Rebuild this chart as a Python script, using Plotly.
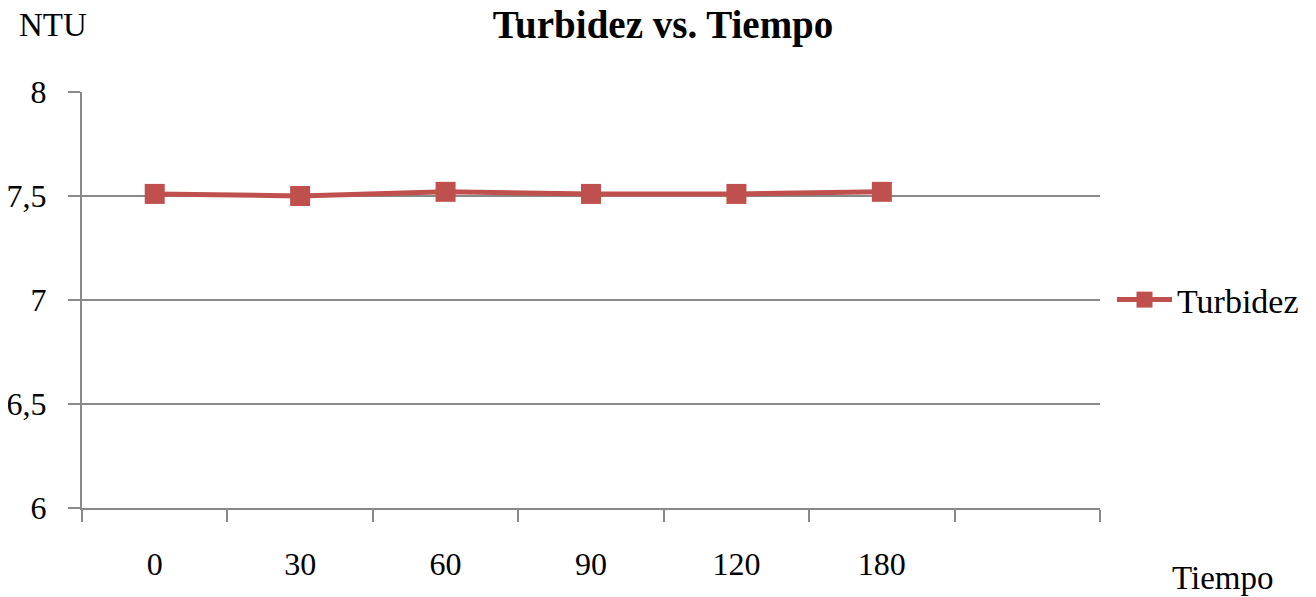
import plotly.graph_objects as go

tiempo = ["0", "30", "60", "90", "120", "180"]
turbidez = [7.51, 7.50, 7.52, 7.51, 7.51, 7.52]
y_ticks = [6, 6.5, 7, 7.5, 8]

RED = "#C0504D"
GRAY = "#898989"
FONT = "Liberation Serif"

# page has an 8px body margin, so the figure is sized to the visible area
W, H = 1300, 589
L, R, T, B = 74, 208, 84, 89
PW, PH = W - L - R, H - T - B

fig = go.Figure()
fig.add_trace(
    go.Scatter(
        x=tiempo,
        y=turbidez,
        mode="lines+markers",
        name="Turbidez",
        line=dict(color=RED, width=5),
        marker=dict(symbol="square", size=20, color=RED),
    )
)

fig.update_layout(
    width=W,
    height=H,
    margin=dict(l=L, r=R, t=T, b=B, autoexpand=False),
    paper_bgcolor="white",
    plot_bgcolor="white",
    separators=", ",
    font=dict(family=FONT, size=32, color="black"),
    title=dict(
        text="<b>Turbidez vs. Tiempo</b>",
        x=655 / W,
        xanchor="center",
        y=1 - 16 / H,
        yanchor="middle",
        font=dict(family=FONT, size=39, color="black"),
    ),
    showlegend=True,
    legend=dict(
        x=(1104 - L) / PW,
        xanchor="left",
        y=0.5,
        yanchor="middle",
        itemwidth=55,
        font=dict(family=FONT, size=34),
        bgcolor="rgba(0,0,0,0)",
    ),
)

fig.update_xaxes(
    type="category",
    categoryorder="array",
    categoryarray=tiempo + [" "],
    range=[-0.5, 6.5],
    tickson="boundaries",
    ticks="outside",
    ticklen=12,
    tickcolor=GRAY,
    tickwidth=2,
    showline=True,
    linecolor=GRAY,
    linewidth=2,
    showgrid=False,
    automargin=False,
    ticklabelstandoff=27,
    tickfont=dict(size=32),
)

fig.update_yaxes(
    range=[6, 8],
    tickvals=y_ticks,
    ticks="outside",
    ticklen=12,
    tickcolor=GRAY,
    tickwidth=2,
    showline=True,
    linecolor=GRAY,
    linewidth=2,
    showgrid=True,
    gridcolor=GRAY,
    gridwidth=1.5,
    zeroline=False,
    automargin=False,
    ticklabelstandoff=15,
    tickfont=dict(size=32),
)

fig.add_annotation(
    text="NTU", xref="paper", yref="paper",
    x=(45 - L) / PW, y=(T + PH - 17) / PH,
    xanchor="center", yanchor="middle", showarrow=False,
    font=dict(family=FONT, size=33),
)
fig.add_annotation(
    text="Tiempo", xref="paper", yref="paper",
    x=(1214 - L) / PW, y=(T + PH - 570) / PH,
    xanchor="center", yanchor="middle", showarrow=False,
    font=dict(family=FONT, size=33),
)

fig.write_html("out.html")
